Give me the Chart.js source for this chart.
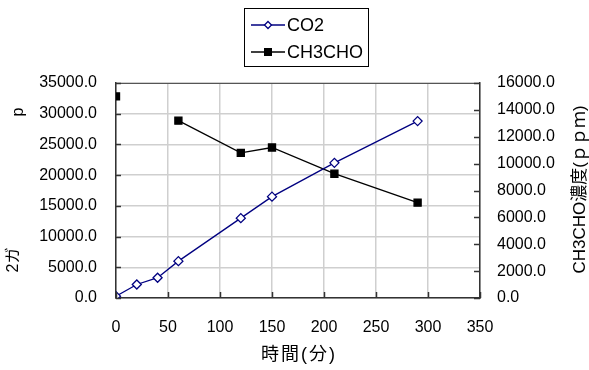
<!DOCTYPE html>
<html>
<head>
<meta charset="utf-8">
<script src="https://cdn.jsdelivr.net/npm/chart.js@4"></script>
<style>
html,body{margin:0;padding:0;background:#fff;}
#wrap{position:relative;width:589px;height:370px;}
</style>
</head>
<body>
<div id="wrap"><canvas id="c" width="589" height="370"></canvas></div>
<script>
// Data
const times = [0, 20, 40, 60, 120, 150, 210, 290];          // 時間(分)
const co2Values = [300, 2200, 3300, 6000, 13000, 16500, 22000, 28800];
const ch3choValues = [15000, null, null, 13200, 10800, 11200, 9250, 7100];
const xTicks = [0, 50, 100, 150, 200, 250, 300, 350];
const leftTicks = [0, 5000, 10000, 15000, 20000, 25000, 30000, 35000];
const rightTicks = [0, 2000, 4000, 6000, 8000, 10000, 12000, 14000, 16000];
const seriesNames = ['CO2', 'CH3CHO'];
const xTitle = '時間(分)';
const rightTitle = 'CH3CHO濃度(ｐｐｍ)';
const leftTitleParts = ['2ガ', 'p'];

const FONT = '"Liberation Sans", Arial, sans-serif';
const CJK = '"Liberation Sans", "Noto Sans CJK JP", sans-serif';

const co2Points = times.map((t, i) => ({x: t, y: co2Values[i]}));
const ch3Points = times.map((t, i) => ({x: t, y: ch3choValues[i]}));

function drawDiamond(ctx, x, y, r) {
  ctx.beginPath();
  ctx.moveTo(x, y - r); ctx.lineTo(x + r, y); ctx.lineTo(x, y + r); ctx.lineTo(x - r, y); ctx.closePath();
  ctx.fillStyle = '#fff'; ctx.fill();
  ctx.strokeStyle = '#000080'; ctx.lineWidth = 1.3; ctx.stroke();
}

const extras = {
  id: 'extras',
  afterDraw(chart) {
    const ctx = chart.ctx;
    const a = chart.chartArea;
    const sx = chart.scales.x, sy = chart.scales.y, sy2 = chart.scales.y2;
    ctx.save();
    // top border
    ctx.strokeStyle = '#555'; ctx.lineWidth = 1;
    ctx.beginPath(); ctx.moveTo(a.left, a.top + 0.5); ctx.lineTo(a.right, a.top + 0.5); ctx.stroke();
    // inner tick marks
    ctx.strokeStyle = '#333'; ctx.lineWidth = 1.5;
    leftTicks.forEach(v => { const y = Math.round(sy.getPixelForValue(v)) + 0.5; ctx.beginPath(); ctx.moveTo(a.left, y); ctx.lineTo(a.left + 5, y); ctx.stroke(); });
    rightTicks.forEach(v => { const y = Math.round(sy2.getPixelForValue(v)) + 0.5; ctx.beginPath(); ctx.moveTo(a.right, y); ctx.lineTo(a.right - 6, y); ctx.stroke(); });
    xTicks.forEach(v => { const x = Math.round(sx.getPixelForValue(v)) + 0.5; ctx.beginPath(); ctx.moveTo(x, a.bottom); ctx.lineTo(x, a.bottom - 6); ctx.stroke(); });

    // titles
    ctx.fillStyle = '#000';
    ctx.textAlign = 'center'; ctx.textBaseline = 'middle';
    ctx.font = '18px ' + CJK;
    try { ctx.letterSpacing = '2px'; } catch (e) {}
    ctx.fillText(xTitle, (a.left + a.right) / 2 + 1, 355);
    try { ctx.letterSpacing = '0px'; } catch (e) {}
    ctx.font = '17px ' + CJK;
    ctx.save(); ctx.translate(580, (a.top + a.bottom) / 2 - 1); ctx.rotate(-Math.PI / 2);
    ctx.fillText(rightTitle, 0, 0); ctx.restore();
    ctx.font = '16px ' + CJK;
    ctx.save(); ctx.translate(14, 260); ctx.rotate(-Math.PI / 2);
    ctx.fillText(leftTitleParts[0], 0, 0); ctx.restore();
    ctx.save(); ctx.translate(19, 112); ctx.rotate(-Math.PI / 2);
    ctx.fillText(leftTitleParts[1], 0, 0); ctx.restore();

    // legend
    ctx.strokeStyle = '#000'; ctx.lineWidth = 1;
    ctx.strokeRect(244.5, 8.5, 124, 58);
    const rows = [25, 52];
    ctx.strokeStyle = '#000080'; ctx.lineWidth = 1.3;
    ctx.beginPath(); ctx.moveTo(251, rows[0]); ctx.lineTo(285, rows[0]); ctx.stroke();
    drawDiamond(ctx, 268, rows[0], 3.5);
    ctx.strokeStyle = '#000'; ctx.lineWidth = 1.3;
    ctx.beginPath(); ctx.moveTo(251, rows[1]); ctx.lineTo(285, rows[1]); ctx.stroke();
    ctx.fillStyle = '#000'; ctx.fillRect(264, rows[1] - 4, 8, 8);
    ctx.fillStyle = '#000'; ctx.font = '18px ' + FONT; ctx.textAlign = 'left';
    ctx.fillText(seriesNames[0], 287, rows[0] + 1);
    ctx.fillText(seriesNames[1], 287, rows[1] + 1);
    ctx.restore();
  }
};

new Chart(document.getElementById('c'), {
  type: 'line',
  data: {
    datasets: [
      {
        label: seriesNames[0], data: co2Points, yAxisID: 'y',
        borderColor: '#000080', borderWidth: 1.3, backgroundColor: '#fff',
        pointStyle: 'rectRot', pointRadius: 4.5, pointBorderColor: '#000080',
        pointBackgroundColor: '#fff', pointBorderWidth: 1.3, tension: 0
      },
      {
        label: seriesNames[1], data: ch3Points, yAxisID: 'y2',
        borderColor: '#000', borderWidth: 1.3, backgroundColor: '#000',
        pointStyle: 'rect', pointRadius: 5, pointBorderColor: '#000',
        pointBackgroundColor: '#000', spanGaps: false, tension: 0
      }
    ]
  },
  options: {
    responsive: false, animation: false, devicePixelRatio: 1,
    layout: {padding: {top: 83, left: 0, right: 0, bottom: 0}},
    plugins: {legend: {display: false}, tooltip: {enabled: false}},
    scales: {
      x: {
        type: 'linear', min: 0, max: 350,
        afterBuildTicks(s) { s.ticks = xTicks.map(v => ({value: v})); },
        afterFit(s) { s.height = 72; },
        grid: {color: '#cfcfcf', lineWidth: 1.5, drawTicks: false},
        border: {color: '#333', width: 1.5},
        ticks: {padding: 20, color: '#000', font: {family: FONT, size: 16}, maxRotation: 0}
      },
      y: {
        position: 'left', min: 0, max: 35000,
        afterBuildTicks(s) { s.ticks = leftTicks.map(v => ({value: v})); },
        afterFit(s) { s.width = 116; },
        grid: {color: '#cfcfcf', lineWidth: 1.5, drawTicks: false},
        border: {color: '#333', width: 1.5},
        ticks: {padding: 19, color: '#000', font: {family: FONT, size: 16}, callback: v => Number(v).toFixed(1)}
      },
      y2: {
        position: 'right', min: 0, max: 16000,
        afterBuildTicks(s) { s.ticks = rightTicks.map(v => ({value: v})); },
        afterFit(s) { s.width = 109; },
        grid: {drawOnChartArea: false, drawTicks: false},
        border: {color: '#333', width: 1.5},
        ticks: {padding: 17, color: '#000', font: {family: FONT, size: 16}, callback: v => Number(v).toFixed(1)}
      }
    }
  },
  plugins: [extras]
});
</script>
</body>
</html>
